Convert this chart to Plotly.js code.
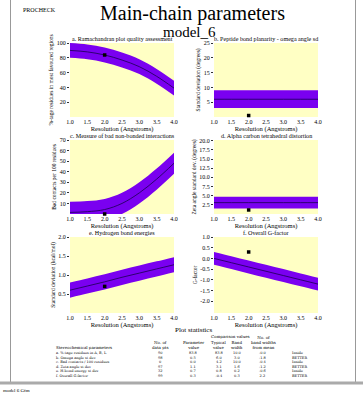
<!DOCTYPE html>
<html><head><meta charset="utf-8">
<script src="https://cdn.plot.ly/plotly-3.0.1.min.js"></script>
<style>html,body{margin:0;padding:0;background:#fff;}#chart{width:363px;height:394px;}</style>
</head><body><div id="chart"></div>
<script>
// ---- data ----
const resolution = [1.0, 1.5, 2.0, 2.5, 3.0, 3.5, 4.0];
const ramaTypical = [90, 88, 83.8, 77, 68, 55, 39];
const omegaTypical = [6.0, 6.0, 6.0, 6.0, 6.0, 6.0, 6.0];
const badContactsTypical = [1.5, 2.2, 4.2, 10, 20, 33, 48];
const zetaTypical = [3.1, 3.1, 3.1, 3.1, 3.1, 3.1, 3.1];
const hbondTypical = [0.60, 0.71, 0.82, 0.94, 1.05, 1.16, 1.27];
const gfactorTypical = [0.0, -0.2, -0.4, -0.6, -0.8, -1.0, -1.2];
const bandWidths = [10.0, 3.0, 10.0, 1.6, 0.2, 0.3];
const modelResolution = 2.0;
const parameterValues = [83.8, 0.5, 0.0, 1.1, 0.7, 0.3];

const panelTitles = [
  "a. Ramachandran plot quality assessment",
  "b. Peptide bond planarity - omega angle sd",
  "c. Measure of bad non-bonded interactions",
  "d. Alpha carbon tetrahedral distortion",
  "e. Hydrogen bond energies",
  "f. Overall G-factor"
];
const yTitles = [
  "%-tage residues in most favoured regions",
  "Standard deviation (degrees)",
  "Bad contacts per 100 residues",
  "Zeta angle standard dev. (degrees)",
  "Standard deviation (kcal/mol)",
  "G-factor"
];
const yTickVals = [
  [20, 40, 60, 80, 100],
  [5, 10, 15, 20, 25],
  [10, 20, 30, 40, 50, 60, 70],
  [2.5, 5.0, 7.5, 10.0, 12.5, 15.0, 17.5, 20.0],
  [0.5, 1.0, 1.5, 2.0],
  [-2.0, -1.5, -1.0, -0.5, 0.0, 0.5, 1.0]
];
const yTickText = [
  ["20", "40", "60", "80", "100"],
  ["5", "10", "15", "20", "25"],
  ["10", "20", "30", "40", "50", "60", "70"],
  ["2.5", "5.0", "7.5", "10.0", "12.5", "15.0", "17.5", "20.0"],
  ["0.5", "1.0", "1.5", "2.0"],
  ["-2.0", "-1.5", "-1.0", "-0.5", "0.0", "0.5", "1.0"]
];
const yRanges = [[0, 100], [0, 25], [0, 70], [0, 20.2], [0, 2.0], [-2.55, 1.0]];
const xTickVals = [1.0, 1.5, 2.0, 2.5, 3.0, 3.5, 4.0];
const xTickText = ["1.0", "1.5", "2.0", "2.5", "3.0", "3.5", "4.0"];

// table
const tableParams = [
  "a. %-tage residues in A, B, L",
  "b. Omega angle st dev",
  "c. Bad contacts / 100 residues",
  "d. Zeta angle st dev",
  "e. H-bond energy st dev",
  "f. Overall G-factor"
];
const tableDataPts = ["90", "98", "0", "97", "32", "99"];
const tableValues = ["83.8", "0.5", "0.0", "1.1", "0.7", "0.3"];
const tableTypical = ["83.8", "6.0", "4.2", "3.1", "0.8", "-0.4"];
const tableBand = ["10.0", "3.0", "10.0", "1.6", "0.2", "0.3"];
const tableFromMean = ["-0.0", "-1.8", "-0.4", "-1.2", "-0.6", "2.2"];
const tableStatus = ["Inside", "BETTER", "Inside", "BETTER", "Inside", "BETTER"];

// ---- layout helpers ----
const W = 363, H = 394;
const px = x => x / W;
const py = y => 1 - y / H;
const FONT = "Liberation Serif, Times New Roman, serif";
const TFONT = "DejaVu Serif, Liberation Serif, serif";
const BAND = "#7a00f0";
const BG = "#ffffc4";

const colX = [[70, 174], [214, 318]];
const rowY = [[43, 117], [140, 214], [237, 313]];
const centers = [ramaTypical, omegaTypical, badContactsTypical, zetaTypical, hbondTypical, gfactorTypical];

const data = [];
const layout = {
  width: W, height: H,
  margin: {l: 0, r: 0, t: 0, b: 0},
  paper_bgcolor: "#fff",
  plot_bgcolor: "rgba(0,0,0,0)",
  showlegend: false,
  font: {family: FONT, size: 6, color: "#000"},
  annotations: [],
  shapes: []
};

for (let i = 0; i < 6; i++) {
  const c = i % 2, r = Math.floor(i / 2);
  const n = i + 1;
  const xa = n === 1 ? "x" : "x" + n;
  const ya = n === 1 ? "y" : "y" + n;
  const upper = centers[i].map(v => v + bandWidths[i]);
  const lower = centers[i].map(v => v - bandWidths[i]);
  data.push({x: resolution, y: lower, xaxis: xa, yaxis: ya, mode: "lines", line: {width: 0, color: BAND, shape: "spline"}, hoverinfo: "skip"});
  data.push({x: resolution, y: upper, xaxis: xa, yaxis: ya, mode: "lines", fill: "tonexty", fillcolor: BAND, line: {width: 0, color: BAND, shape: "spline"}, hoverinfo: "skip"});
  data.push({x: resolution, y: centers[i], xaxis: xa, yaxis: ya, mode: "lines", line: {width: 0.8, color: "#1a0050", shape: "spline"}});
  data.push({x: [modelResolution], y: [parameterValues[i]], xaxis: xa, yaxis: ya, mode: "markers", marker: {symbol: "square", size: 3.5, color: "#000"}, cliponaxis: false});

  const xKey = n === 1 ? "xaxis" : "xaxis" + n;
  const yKey = n === 1 ? "yaxis" : "yaxis" + n;
  layout[xKey] = {
    domain: [px(colX[c][0]), px(colX[c][1])],
    anchor: ya, range: [1.0, 4.0],
    tickvals: xTickVals, ticktext: xTickText,
    ticks: "", ticklabelstandoff: 0,
    showgrid: false, zeroline: false, showline: false,
    tickfont: {size: 6, family: FONT},
    title: {text: "Resolution (Angstroms)", font: {size: 6.5, family: FONT}, standoff: 0}
  };
  layout[yKey] = {
    domain: [py(rowY[r][1]), py(rowY[r][0])],
    anchor: xa, range: yRanges[i],
    tickvals: yTickVals[i], ticktext: yTickText[i],
    ticks: "outside", ticklen: 2, tickcolor: "#333",
    showgrid: false, zeroline: false, showline: false,
    tickfont: {size: 6, family: FONT},
    title: {text: yTitles[i], font: {size: 5.5, family: FONT}, standoff: 2}
  };
  layout.shapes.push({type: "rect", xref: "paper", yref: "paper", layer: "below",
    x0: px(colX[c][0]), x1: px(colX[c][1]), y0: py(rowY[r][1]), y1: py(rowY[r][0]),
    fillcolor: BG, line: {width: 0}});
  layout.annotations.push({xref: "paper", yref: "paper", x: px((colX[c][0] + colX[c][1]) / 2), y: py(rowY[r][0] - 4),
    text: panelTitles[i], showarrow: false, font: {size: 6.1, family: FONT}, xanchor: "center", yanchor: "middle"});
}

// headings
const A = layout.annotations;
function txt(x, y, t, size, xanchor, family) {
  A.push({xref: "paper", yref: "paper", x: px(x), y: py(y), text: t, showarrow: false, borderpad: 0,
    align: xanchor === "left" ? "left" : "center",
    font: {size: size, family: family || FONT, color: "#000"}, xanchor: xanchor || "center", yanchor: "middle"});
}
txt(22, 10, "PROCHECK", 6, "left");
txt(192, 13.5, "Main-chain parameters", 20);
txt(189, 32, "model_6", 15);

// table headings
txt(194, 330, "Plot statistics", 7);
txt(230, 336.3, "Comparison values", 4, "center", TFONT);
txt(160, 344.5, "No. of<br>data pts", 4, "center", TFONT);
txt(193, 344.5, "Parameter<br>value", 4, "center", TFONT);
txt(218, 344.5, "Typical<br>value", 4, "center", TFONT);
txt(237, 344.5, "Band<br>width", 4, "center", TFONT);
txt(263, 342, "No. of<br>band widths<br>from mean", 4, "center", TFONT);
txt(55, 347, "Stereochemical parameters", 4, "left", TFONT);

// table body: one text block per column
const rowsY = 364;
const RS = 3.5;
txt(55, rowsY, tableParams.join("<br>"), RS, "left", TFONT);
txt(160, rowsY, tableDataPts.join("<br>"), RS, "center", TFONT);
txt(193, rowsY, tableValues.join("<br>"), RS, "center", TFONT);
txt(219, rowsY, tableTypical.join("<br>"), RS, "center", TFONT);
txt(237, rowsY, tableBand.join("<br>"), RS, "center", TFONT);
txt(263, rowsY, tableFromMean.join("<br>"), RS, "center", TFONT);
txt(291, rowsY, tableStatus.join("<br>"), RS, "left", TFONT);

txt(2, 390, "model 6 Gfm", 5, "left");

// frame
layout.shapes.push({type: "line", xref: "paper", yref: "paper", x0: px(10.5), x1: px(10.5), y0: py(0), y1: py(383), line: {color: "#999", width: 1}});
layout.shapes.push({type: "line", xref: "paper", yref: "paper", x0: px(355.5), x1: px(355.5), y0: py(0), y1: py(383), line: {color: "#999", width: 1}});
layout.shapes.push({type: "line", xref: "paper", yref: "paper", x0: 0, x1: 1, y0: py(383), y1: py(383), line: {color: "#aaa", width: 3}});

Plotly.newPlot("chart", data, layout, {staticPlot: true, displayModeBar: false});
</script></body></html>
